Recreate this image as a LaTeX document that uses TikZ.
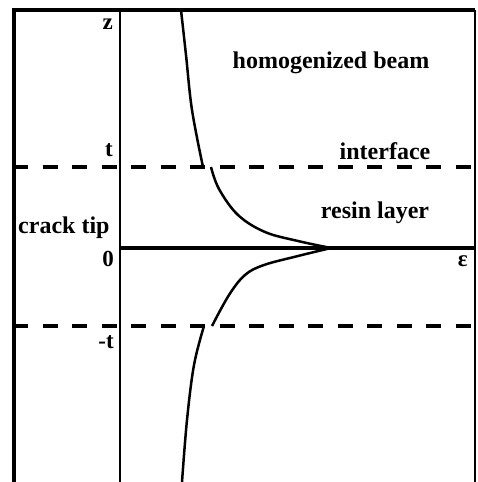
\documentclass[tikz,border=0pt]{standalone}
\usepackage{fontspec}
\setmainfont{Liberation Serif}
\begin{document}
\begin{tikzpicture}[x=1pt,y=-1pt,
  frame/.style={line width=3.2pt},
  axisline/.style={line width=2.4pt},
  dashline/.style={line width=3.2pt, dash pattern=on 15pt off 14.5pt},
  curve/.style={line width=2.5pt, smooth, tension=0.6},
  biglabel/.style={font=\fontsize{24}{26}\selectfont\bfseries, inner sep=0pt, anchor=base},
  axlabel/.style={font=\fontsize{23}{26}\selectfont\bfseries, inner sep=0pt, anchor=base east}]
\useasboundingbox (0,0) rectangle (478,482);
\fill[white] (0,0) rectangle (478,482);
% frame
\coordinate (bl) at (14,482);
\coordinate (tl) at (14,10);
\coordinate (tr) at (475,10);
\coordinate (br) at (475,482);
\draw[frame] (bl) -- (tl) -- (tr);
\draw[line width=2.4pt] (tr) -- (br);
% axes
\coordinate (atop) at (120,10);
\coordinate (abot) at (120,482);
\coordinate (o) at (120,248);
\coordinate (eend) at (475,248);
\draw[axisline] (atop) -- (abot);
\draw[line width=3.2pt] (o) -- (eend);
% dashed interfaces
\coordinate (d1l) at (13,167);
\coordinate (d1r) at (475,167);
\coordinate (d2l) at (13,326);
\coordinate (d2r) at (475,326);
\draw[dashline] (d1l) -- (d1r);
\draw[dashline] (d2l) -- (d2r);
% strain curve
\draw[curve] plot coordinates {(181,10) (186,55) (192,110) (203,167)};
\draw[curve] plot coordinates {(211,167) (219,189) (238,215) (265,232) (298,241) (331,248)};
\draw[curve] plot coordinates {(331,248) (298,256) (264,265) (245,275) (229,295) (212,326)};
\draw[curve] plot coordinates {(204,326) (194,365) (187,420) (182,482)};
% labels
\node[axlabel] (lz) at (113,29) {z};
\node[axlabel] (lt) at (113,156) {t};
\node[axlabel] (l0) at (114,266) {0};
\node[axlabel] (lmt) at (114,348) {-t};
\node[axlabel] (leps) at (468,266) {ε};
\node[biglabel] (hb) at (331,68) {homogenized beam};
\node[biglabel] (intf) at (385,159) {interface};
\node[biglabel] (resin) at (375,218) {resin layer};
\node[biglabel, anchor=base west] (ct) at (18,233) {crack tip};
\end{tikzpicture}
\end{document}
